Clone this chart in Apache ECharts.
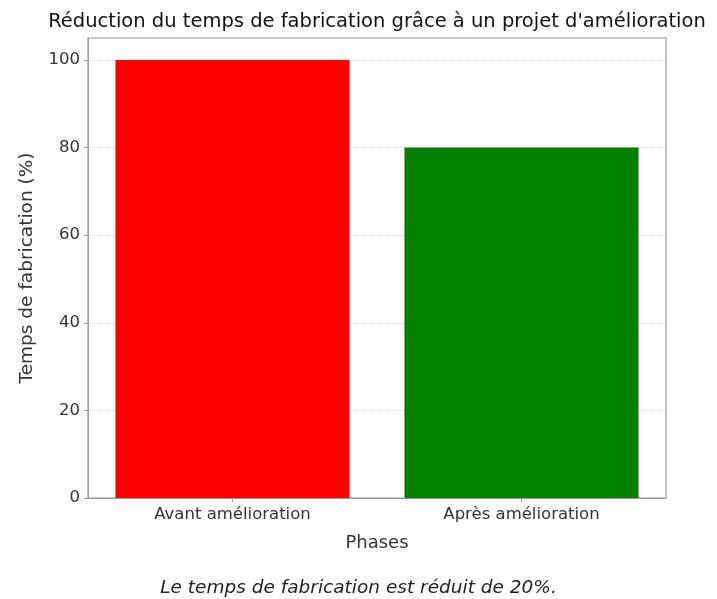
<!DOCTYPE html>
<html><head><meta charset="utf-8">
<script src="https://cdn.jsdelivr.net/npm/echarts@6/dist/echarts.min.js"></script>
<style>html,body{margin:0;padding:0;background:#fff}#c{width:717px;height:599px}</style>
</head><body><div id="c"></div>
<script>
const categories = ['Avant amélioration', 'Après amélioration'];
const values = [100, 80];
const barColors = ['#ff0000', '#008000'];
const yTicks = [0, 20, 40, 60, 80, 100];

const FONT = 'DejaVu Sans';
const chart = echarts.init(document.getElementById('c'));
chart.setOption({
  animation: false,
  title: {
    text: 'Réduction du temps de fabrication grâce à un projet d\'amélioration',
    left: 372, top: 7, textAlign: 'center',
    textStyle: { fontFamily: FONT, fontSize: 19.5, fontWeight: 'normal', color: '#111' }
  },
  grid: { left: 88, right: 51, top: 38, bottom: 101, show: true, borderColor: '#9a9a9a', borderWidth: 1.2 },
  xAxis: {
    type: 'category', data: categories,
    name: 'Phases', nameLocation: 'middle', nameGap: 36,
    nameTextStyle: { fontFamily: FONT, fontSize: 18, color: '#333' },
    axisLine: { show: true, lineStyle: { color: '#9a9a9a' } },
    axisTick: { show: true, alignWithLabel: true, length: 4, lineStyle: { color: '#9a9a9a' } },
    axisLabel: { fontFamily: FONT, fontSize: 16.5, color: '#333', margin: 8 }
  },
  yAxis: {
    type: 'value', min: 0, max: 105, interval: 20,
    name: 'Temps de fabrication (%)', nameLocation: 'middle', nameGap: 51,
    nameTextStyle: { fontFamily: FONT, fontSize: 18.5, color: '#333' },
    axisLine: { show: true, lineStyle: { color: '#9a9a9a' } },
    axisTick: { show: true, length: 4, customValues: yTicks, lineStyle: { color: '#9a9a9a' } },
    axisLabel: { fontFamily: FONT, fontSize: 16.5, color: '#333', margin: 8, customValues: yTicks },
    splitLine: { show: true, lineStyle: { color: '#d8d8d8', type: 'dotted', width: 1 } }
  },
  series: [{
    type: 'bar', barWidth: '81%',
    data: values.map((v, i) => ({ value: v, itemStyle: { color: barColors[i] } }))
  }],
  graphic: [{
    type: 'text', left: 'center', top: 579,
    style: { text: 'Le temps de fabrication est réduit de 20%.',
      font: 'italic 18.5px "DejaVu Sans"', fill: '#222' }
  }]
});
</script></body></html>
